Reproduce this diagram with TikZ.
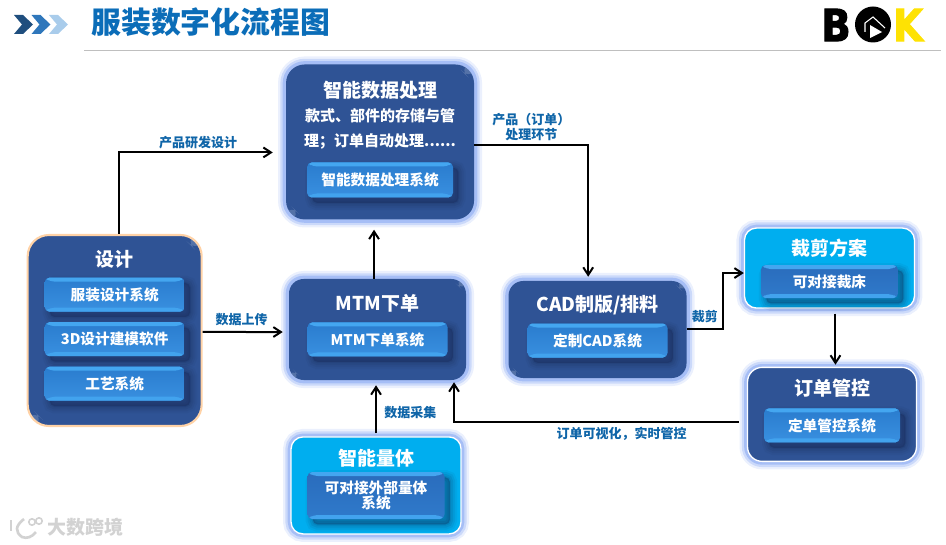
\documentclass[tikz,border=0pt]{standalone}
\usepackage{fontspec}
\setmainfont{Noto Sans CJK SC}
\newfontfamily\logofont[BoldFont={* Bold},BoldFeatures={FakeBold=2.5}]{DejaVu Sans}
\usetikzlibrary{arrows.meta,positioning,calc}
\definecolor{navy}{HTML}{2F5395}
\definecolor{glowc}{HTML}{6E95F0}
\definecolor{cyanp}{HTML}{00AEEF}
\definecolor{shadec}{HTML}{14264F}
\definecolor{sysA}{HTML}{2A7CCE}
\definecolor{sysB}{HTML}{3990E0}
\definecolor{csysA}{HTML}{2A6CBC}
\definecolor{csysB}{HTML}{2F7ACB}
\definecolor{sysedge}{HTML}{44A6F0}
\definecolor{labelc}{HTML}{0F65A8}
\definecolor{titlec}{HTML}{0B6DB8}
\definecolor{markc}{HTML}{D2D2D2}
\newcommand{\fsz}[1]{\fontsize{#1}{#1}\selectfont}

\begin{document}
\begin{tikzpicture}[x=0.75pt, y=-0.75pt, >={Straight Barb[length=2mm,width=2.6mm]},
      panel/.style={rounded corners=11pt, fill=navy,
                    preaction={draw=glowc, line width=12pt, opacity=.14},
                    preaction={draw=glowc, line width=8.5pt, opacity=.25},
                    preaction={draw=glowc, line width=5pt, opacity=.4}},
      gloss/.style={path picture={
                      \fill[white, opacity=.18] (path picture bounding box.north east) -- ++(-#1,0) -- ++(#1,-#1) -- cycle;
                      \fill[white, opacity=.18] (path picture bounding box.south west) -- ++(#1,0) -- ++(-#1,#1) -- cycle;
                    }},
      wpanel/.style={panel, draw=white, line width=1pt},
      cpanel/.style={wpanel, fill=cyanp, rounded corners=9pt},
      dpanel/.style={rounded corners=16pt, fill=navy, draw=orange!35, line width=1.6pt},
      headtxt/.style={inner sep=0pt, text=white, text height=12pt, text depth=2.2pt,
                      font=\fsz{14.25}\bfseries},
      sysbox/.style={minimum width=105pt, minimum height=25.5pt, inner sep=0pt, align=center,
                     rounded corners=3.5pt, text=white, font=\fsz{11}\bfseries,
                     preaction={fill=shadec, draw=shadec, line width=11pt, opacity=.06,
                                transform canvas={shift={(4pt,-4pt)}}},
                     preaction={fill=shadec, draw=shadec, line width=8pt, opacity=.08,
                                transform canvas={shift={(4pt,-4pt)}}},
                     preaction={fill=shadec, draw=shadec, line width=5pt, opacity=.1,
                                transform canvas={shift={(4pt,-4pt)}}},
                     preaction={fill=shadec, draw=shadec, line width=2pt, opacity=.12,
                                transform canvas={shift={(4pt,-4pt)}}},
                     top color=sysA, bottom color=sysB,
                     path picture={
                       \fill[sysedge] (path picture bounding box.north west) -- (path picture bounding box.north east)
                         -- ++(-4pt,-3pt) -- ($(path picture bounding box.north west)+(4pt,-3pt)$) -- cycle;
                       \fill[sysedge!85!sysB] (path picture bounding box.south west) -- (path picture bounding box.south east)
                         -- ++(-4pt,3pt) -- ($(path picture bounding box.south west)+(4pt,3pt)$) -- cycle;
                     }},
      csysbox/.style={sysbox, top color=csysA, bottom color=csysB},
      lab/.style={text=labelc, font=\fontsize{9.75}{11.25}\selectfont\bfseries, inner sep=1pt, align=center},
      ar/.style={->, line width=1.5pt}]
    \useasboundingbox (0,0) rectangle (946,545);
    % --- header ---
    \foreach \cx/\cc in {0/1F4E7E, 17.5/2F77BB, 35/A9CCEB} {
      \definecolor{chev}{HTML}{\cc}
      \fill[chev] (14+\cx,15) -- (23+\cx,15) -- (33+\cx,24.5) -- (23+\cx,34) -- (14+\cx,34) -- (22+\cx,24.5) -- cycle;
    }
    \node[anchor=west, inner sep=0pt, text=titlec, font=\fsz{22.4}\bfseries] (title) at (91,22) {服装数字化流程图};
    \draw[black!25] (84,50.5) -- (941,50.5);
    % --- logo, top right ---
    \node[inner sep=0pt, xscale=.88, transform shape, font=\logofont\fsz{33}\bfseries] (logoB) at (836,25) {B};
    \node[inner sep=0pt, xscale=.88, transform shape, text=yellow!85!orange, font=\logofont\fsz{33}\bfseries] (logoK) at (908,25) {K};
    \fill (873,24.5) circle (18);
    \draw[white, line width=.8pt] (865,32) -- (865,23) -- (873,17) -- (885,28);
    \fill[white] (870,25) -- (882,32) -- (870,38) -- cycle;
    % --- the seven panels ---
    \node[panel, gloss=11pt, minimum width=132.75pt, minimum height=75.75pt] (mtm) at (377.5,329.5) {};
    \node[panel, gloss=14pt, rounded corners=14pt, minimum width=141pt, minimum height=116.25pt,
          above=44.25pt of mtm, xshift=1.9pt] (dproc) {};
    \node[dpanel, gloss=16pt, minimum width=130.5pt, minimum height=143.25pt,
          left=64.5pt of mtm, yshift=-.75pt] (dsgn) {};
    \node[panel, gloss=11pt, minimum width=133.5pt, minimum height=72.75pt, right=31.5pt of mtm] (cad) {};
    \node[cpanel, minimum width=127.5pt, minimum height=60pt,
          right=42.75pt of cad, yshift=46.1pt] (cut) {};
    \node[wpanel, minimum width=126.75pt, minimum height=70.5pt,
          below=43.5pt of cut, xshift=1.9pt] (ordr) {};
    \node[cpanel, minimum width=127.5pt, minimum height=72.75pt,
          below=42pt of mtm, xshift=-1.1pt] (meas) {};
    % --- panel contents ---
    \node[headtxt, below=13.1pt of dproc.north] (dprocT) {智能数据处理};
    \node[below=5pt of dprocT, inner sep=0pt, text=white, align=center, font=\fontsize{11.25}{18.75}\selectfont\bfseries] (dprocD)
      {款式、部件的存储与管\\理；订单自动处理......};
    \node[sysbox, minimum width=109.5pt, minimum height=26.25pt, above=16.5pt of dproc.south] (dprocS) {智能数据处理系统};

    \node[headtxt, below=12.4pt of dsgn.north] (dsgnT) {设计};
    \node[sysbox, below=5.6pt of dsgnT] (dsgnA) {服装设计系统};
    \node[sysbox, below=7.5pt of dsgnA] (dsgnB) {3D设计建模软件};
    \node[sysbox, below=7.5pt of dsgnB] (dsgnC) {工艺系统};

    \node[headtxt, below=11.6pt of mtm.north] (mtmT) {MTM下单};
    \node[sysbox, below=6.4pt of mtmT] (mtmS) {MTM下单系统};

    \node[headtxt, below=10.9pt of cad.north] (cadT) {CAD制版/排料};
    \node[sysbox, below=6.4pt of cadT] (cadS) {定制CAD系统};

    \node[headtxt, below=8.6pt of cut.north] (cutT) {裁剪方案};
    \node[csysbox, minimum width=102.75pt, minimum height=24.75pt, below=4.9pt of cutT] (cutS) {可对接裁床};

    \node[headtxt, below=9.4pt of ordr.north] (ordrT) {订单管控};
    \node[sysbox, minimum width=102pt, below=7.1pt of ordrT] (ordrS) {定单管控系统};

    \node[headtxt, below=9.4pt of meas.north] (measT) {智能量体};
    \node[csysbox, minimum width=102.75pt, minimum height=35.25pt, below=2.6pt of measT] (measS) {可对接外部量体\\系统};
    % --- connectors ---
    \draw[ar, shorten >=9.75pt] ([xshift=3pt]dsgn.north) |- ([yshift=-7.85pt]dproc.west)
      node[lab, pos=.75, above=1pt, xshift=-3pt] {产品研发设计};
    \draw[ar, shorten >=4.5pt] ([yshift=-1.1pt]dsgn.east) -- ([yshift=-1.9pt]mtm.west)
      node[lab, midway, above=3pt, xshift=-3pt] {数据上传};
    \draw[ar, shorten >=7.5pt] ([xshift=-2.6pt]mtm.north) -- ([xshift=-4.5pt]dproc.south);
    \draw[ar, shorten >=3pt] ([yshift=-2.6pt]dproc.east) -| ([xshift=-7pt]cad.north)
      node[lab, pos=.25, above=2pt] {产品（订单）\\处理环节};
    \draw[ar] (cad.east) -- node[lab, above=3pt] {裁剪} ++(36,0) |- ([yshift=-3.75pt]cut.west);
    \draw[ar, shorten <=3.75pt, shorten >=1.5pt] ([xshift=4.5pt]cut.south) -- ([xshift=2.6pt]ordr.north);
    \draw[ar, shorten <=6pt, shorten >=1.5pt] ([yshift=-6pt]ordr.west) -| ([xshift=57.4pt]mtm.south)
      node[lab, pos=.214, below=2pt] {订单可视化，实时管控};
    \draw[ar, shorten <=2.25pt, shorten >=3.75pt] (meas.north) -- (meas.north |- mtm.south)
      node[lab, midway, right=4.5pt, yshift=-3.5pt] {数据采集};
    % --- watermark, bottom left ---
    \node[anchor=west, inner sep=0pt, text=markc, font=\fsz{14.25}\bfseries] (mark) at (47,527) {大数跨境};
    \draw[markc, line width=2pt] (11,520) -- (11,531);
    \draw[markc, line width=2pt] (24,519) .. controls (15,526) and (15,532) .. (22,537) .. controls (27,539) and (32,537) .. (36,532);
    \draw[markc, line width=1.2pt] (32,522) circle (3.2) (39,521) circle (3.2);
  \end{tikzpicture}
\end{document}
